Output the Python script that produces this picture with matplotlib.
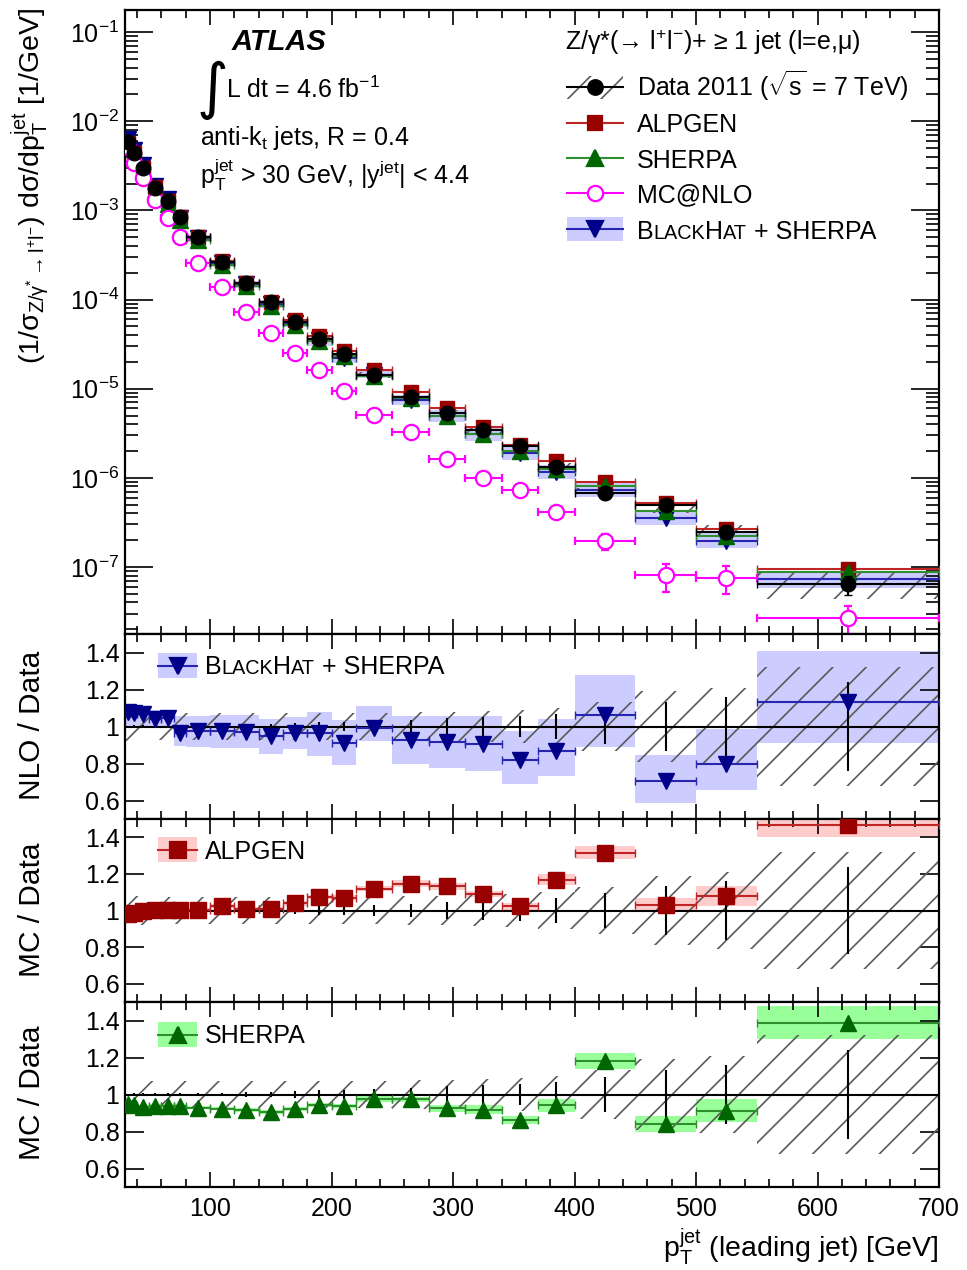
import numpy as np
import matplotlib
matplotlib.use('Agg')
import matplotlib.pyplot as plt
from matplotlib.patches import Rectangle
from matplotlib.lines import Line2D
from matplotlib.ticker import (LogLocator, NullFormatter, FuncFormatter, MultipleLocator,
                               FixedLocator, LogFormatterSciNotation)

plt.rcParams['font.family'] = ['Liberation Sans', 'DejaVu Sans']
plt.rcParams['mathtext.fontset'] = 'custom'
plt.rcParams['mathtext.rm'] = 'Liberation Sans'
plt.rcParams['mathtext.it'] = 'Liberation Sans:italic'
plt.rcParams['mathtext.bf'] = 'Liberation Sans:bold'
plt.rcParams['mathtext.default'] = 'regular'
plt.rcParams['hatch.linewidth'] = 1.2

# ---------------- data ----------------
bin_edges = [30, 35, 40, 50, 60, 70, 80, 100, 120, 140, 160, 180, 200, 220,
             250, 280, 310, 340, 370, 400, 450, 500, 550, 700]

data_xs = [5.85e-3, 4.4e-3, 3.0e-3, 1.8e-3, 1.27e-3, 8.4e-4, 5.0e-4, 2.64e-4,
           1.53e-4, 9.4e-5, 5.6e-5, 3.6e-5, 2.45e-5, 1.43e-5, 8.1e-6, 5.4e-6,
           3.4e-6, 2.3e-6, 1.33e-6, 6.8e-7, 5.0e-7, 2.47e-7, 6.4e-8]
data_stat_rel = [0.005, 0.006, 0.006, 0.007, 0.008, 0.008, 0.009, 0.01, 0.012,
                 0.015, 0.018, 0.022, 0.025, 0.03, 0.035, 0.045, 0.05, 0.055,
                 0.07, 0.095, 0.133, 0.16, 0.24]
data_syst_rel = [0.08, 0.08, 0.08, 0.075, 0.075, 0.075, 0.075, 0.075, 0.075,
                 0.075, 0.075, 0.075, 0.075, 0.075, 0.08, 0.08, 0.085, 0.09,
                 0.1, 0.13, 0.19, 0.21, 0.32]

mcnlo_xs = [5.1e-3, 3.4e-3, 2.3e-3, 1.32e-3, 8.2e-4, 5.0e-4, 2.6e-4, 1.38e-4,
            7.2e-5, 4.25e-5, 2.5e-5, 1.62e-5, 9.5e-6, 5.1e-6, 3.3e-6, 1.63e-6,
            1.0e-6, 7.3e-7, 4.1e-7, 1.96e-7, 8.1e-8, 7.6e-8, 2.7e-8]
mcnlo_err_rel = [0.01, 0.01, 0.01, 0.01, 0.01, 0.01, 0.015, 0.02, 0.02, 0.025,
                 0.03, 0.03, 0.04, 0.05, 0.06, 0.07, 0.08, 0.1, 0.12, 0.2,
                 0.35, 0.35, 0.35]

nlo_ratio = [1.08, 1.075, 1.07, 1.042, 1.045, 0.966, 0.978, 0.975, 0.97, 0.948,
             0.966, 0.966, 0.91, 0.993, 0.929, 0.915, 0.905, 0.82, 0.869, 1.064,
             0.704, 0.80, 1.135]
nlo_band_lo = [1.0, 1.0, 1.0, 0.99, 0.99, 0.895, 0.89, 0.885, 0.885, 0.85, 0.88,
               0.84, 0.79, 0.92, 0.80, 0.775, 0.76, 0.69, 0.73, 0.887, 0.585,
               0.656, 0.91]
nlo_band_hi = [1.11, 1.11, 1.10, 1.09, 1.09, 1.055, 1.058, 1.06, 1.063, 1.04,
               1.05, 1.08, 1.035, 1.11, 1.055, 1.055, 1.055, 0.975, 1.042, 1.28,
               0.847, 0.984, 1.41]

alpgen_ratio = [0.982, 0.988, 0.995, 1.004, 1.005, 1.005, 1.005, 1.023, 1.009,
                1.009, 1.039, 1.074, 1.071, 1.12, 1.147, 1.133, 1.09, 1.023,
                1.168, 1.315, 1.032, 1.08, 1.469]
alpgen_err = [0.008, 0.008, 0.008, 0.008, 0.008, 0.008, 0.008, 0.01, 0.01, 0.01,
              0.012, 0.012, 0.014, 0.015, 0.018, 0.02, 0.015, 0.02, 0.03, 0.035,
              0.035, 0.053, 0.07]

sherpa_ratio = [0.947, 0.942, 0.935, 0.938, 0.938, 0.938, 0.929, 0.924, 0.917,
                0.906, 0.92, 0.943, 0.938, 0.977, 0.973, 0.926, 0.918, 0.864,
                0.942, 1.18, 0.841, 0.912, 1.389]
sherpa_err = [0.008, 0.008, 0.008, 0.008, 0.008, 0.008, 0.008, 0.01, 0.01, 0.01,
              0.01, 0.012, 0.012, 0.015, 0.015, 0.018, 0.024, 0.021, 0.035,
              0.044, 0.042, 0.062, 0.088]

main_yticks = [1e-7, 1e-6, 1e-5, 1e-4, 1e-3, 1e-2, 1e-1]
ratio_yticks = [0.6, 0.8, 1.0, 1.2, 1.4]

# ---------------- colours ----------------
C_ALP, C_ALP_L, C_ALP_B = '#990000', '#c02525', '#ffcccc'
C_SH, C_SH_L, C_SH_B = '#006600', '#2f8f2f', '#99ff99'
C_BH, C_BH_L, C_BH_B = '#000088', '#2626b0', '#ccccff'
C_MC = '#ff00ff'
C_HATCH = '#5a5a5a'

FS = 18        # general text size
FS_SC = 14.3   # small-caps size

edges = np.array(bin_edges, float)
centers = 0.5 * (edges[:-1] + edges[1:])
widths = np.diff(edges)
halfw = widths / 2
data = np.array(data_xs)
stat = np.array(data_stat_rel)
syst = np.array(data_syst_rel)
nlo_r = np.array(nlo_ratio); nlo_lo = np.array(nlo_band_lo); nlo_hi = np.array(nlo_band_hi)
alp_r = np.array(alpgen_ratio); alp_e = np.array(alpgen_err)
sh_r = np.array(sherpa_ratio); sh_e = np.array(sherpa_err)
mcnlo = np.array(mcnlo_xs); mcnlo_e = np.array(mcnlo_err_rel)

W, H = 967, 1270
fig = plt.figure(figsize=(W / 100, H / 100), dpi=100)
L, R = 125, 939


def axes_px(top, bottom):
    return fig.add_axes([L / W, 1 - bottom / H, (R - L) / W, (bottom - top) / H])


ax0 = axes_px(10, 634)
ax1 = axes_px(634, 819)
ax2 = axes_px(819, 1002)
ax3 = axes_px(1002, 1187)

for ax in (ax0, ax1, ax2, ax3):
    ax.set_xlim(30, 700)
    for s in ax.spines.values():
        s.set_linewidth(1.6)
    ax.xaxis.set_major_locator(MultipleLocator(100))
    ax.xaxis.set_minor_locator(MultipleLocator(20))
    ax.tick_params(axis='both', which='both', direction='in', top=True, right=True,
                   width=1.2, labelsize=FS, pad=4)
    ax.xaxis.set_tick_params(which='major', length=11)
    ax.xaxis.set_tick_params(which='minor', length=5.5)
    ax.tick_params(labelbottom=False)
ax3.tick_params(labelbottom=True)
ax3.xaxis.set_tick_params(pad=7)

# ---------------- main panel ----------------
ax0.set_yscale('log')
ax0.set_ylim(1.77e-8, 0.177)
ax0.yaxis.set_major_locator(FixedLocator(main_yticks))
ax0.yaxis.set_major_formatter(LogFormatterSciNotation())
ax0.yaxis.set_minor_locator(LogLocator(base=10, subs=np.arange(2, 10), numticks=50))
ax0.yaxis.set_minor_formatter(NullFormatter())
ax0.yaxis.set_tick_params(which='major', length=20)
ax0.yaxis.set_tick_params(which='minor', length=9.5)

ax0.bar(edges[:-1], data * (nlo_hi - nlo_lo), bottom=data * nlo_lo, width=widths,
        align='edge', color=C_BH_B, linewidth=0, zorder=1)
ax0.bar(edges[:-1], data * 2 * syst, bottom=data * (1 - syst), width=widths,
        align='edge', facecolor='none', edgecolor=C_HATCH, hatch='/', linewidth=0, zorder=2)
ax0.errorbar(centers, data * nlo_r, xerr=halfw, fmt='v', color=C_BH, ecolor=C_BH_L,
             ms=11, capsize=3, elinewidth=1.5, zorder=4)
ax0.errorbar(centers, data * alp_r, xerr=halfw, fmt='s', color=C_ALP, ecolor=C_ALP_L,
             ms=10, capsize=3, elinewidth=1.5, zorder=5)
ax0.errorbar(centers, data * sh_r, xerr=halfw, fmt='^', color=C_SH, ecolor=C_SH_L,
             ms=11, capsize=3, elinewidth=1.5, zorder=6)
ax0.errorbar(centers, mcnlo, xerr=halfw, yerr=mcnlo * mcnlo_e, fmt='o', mfc='white',
             mec=C_MC, ecolor=C_MC, ms=11, mew=1.6, capsize=3, elinewidth=1.5, zorder=7)
ax0.errorbar(centers, data, xerr=halfw, yerr=data * stat, fmt='o', color='black',
             ms=10.5, capsize=3, elinewidth=1.5, zorder=10)


# ---------------- ratio panels ----------------
def ratio_panel(ax, ratio, lo, hi, col, lcol, bcol, marker, ms):
    ax.set_ylim(0.5, 1.5)
    ax.yaxis.set_major_locator(FixedLocator(ratio_yticks))
    ax.yaxis.set_major_formatter(FuncFormatter(lambda v, p: '%g' % v))
    ax.yaxis.set_tick_params(which='major', length=14)
    ax.yaxis.set_tick_params(which='minor', length=0)
    ax.bar(edges[:-1], hi - lo, bottom=lo, width=widths, align='edge', color=bcol,
           linewidth=0, zorder=1)
    ax.bar(edges[:-1], 2 * syst, bottom=1 - syst, width=widths, align='edge',
           facecolor='none', edgecolor=C_HATCH, hatch='/', linewidth=0, zorder=2)
    ax.axhline(1.0, color='black', lw=1.5, zorder=3)
    ax.errorbar(centers, np.ones_like(centers), yerr=stat, fmt='none', ecolor='black',
                elinewidth=1.5, capsize=0, zorder=4)
    ax.errorbar(centers, ratio, xerr=halfw, fmt=marker, color=col, ecolor=lcol,
                ms=ms, capsize=3, elinewidth=1.5, zorder=5)


ratio_panel(ax1, nlo_r, nlo_lo, nlo_hi, C_BH, C_BH_L, C_BH_B, 'v', 12)
ratio_panel(ax2, alp_r, alp_r - alp_e, alp_r + alp_e, C_ALP, C_ALP_L, C_ALP_B, 's', 11)
ratio_panel(ax3, sh_r, sh_r - sh_e, sh_r + sh_e, C_SH, C_SH_L, C_SH_B, '^', 12)

# ---------------- labels ----------------
fig.text(30 / W, 1 - 8 / H,
         r"(1/$\sigma_{Z/\gamma^{*}\rightarrow l^{+}l^{-}}$) d$\sigma$/d$p_{T}^{jet}$ [1/GeV]",
         rotation=90, ha='center', va='top', fontsize=20.5)
fig.text(32 / W, 1 - 725 / H, 'NLO / Data', rotation=90, ha='center', va='center', fontsize=21.5)
fig.text(32 / W, 1 - 910 / H, 'MC / Data', rotation=90, ha='center', va='center', fontsize=21.5)
fig.text(32 / W, 1 - 1093 / H, 'MC / Data', rotation=90, ha='center', va='center', fontsize=21.5)
fig.text(939 / W, 1 - 1257 / H, r"$p_{T}^{jet}$ (leading jet) [GeV]", ha='right',
         va='baseline', fontsize=20.5)

# annotations
fig.text(232 / W, 1 - 42 / H, 'ATLAS', fontsize=21, fontweight='bold', fontstyle='italic',
         ha='left', va='center')
fig.text(197 / W, 1 - 90 / H, '\u222b', fontsize=44, family='DejaVu Sans', ha='left', va='center')
fig.text(226 / W, 1 - 98 / H, r"L dt = 4.6 fb$^{-1}$", fontsize=FS, ha='left', va='baseline')
fig.text(200 / W, 1 - 145 / H, r"anti-k$_{t}$ jets, R = 0.4", fontsize=FS, ha='left', va='baseline')
fig.text(200 / W, 1 - 184 / H, r"$p_{T}^{jet}$ > 30 GeV, |$y^{jet}$| < 4.4", fontsize=FS,
         ha='left', va='baseline')

renderer = fig.canvas.get_renderer()


def text_pieces(X, Ybase, pieces):
    x = X / W
    y = 1 - Ybase / H
    for s, fs in pieces:
        t = fig.text(x, y, s, fontsize=fs, ha='left', va='baseline')
        x += t.get_window_extent(renderer=renderer).width / W


def fig_rect(x0, y0, x1, y1, **kw):
    fig.add_artist(Rectangle((x0 / W, 1 - y1 / H), (x1 - x0) / W, (y1 - y0) / H,
                             transform=fig.transFigure, **kw))


def fig_symbol(x0, x1, yc, lcol, mcol, marker, ms, mfc=None):
    fig.add_artist(Line2D([x0 / W, x1 / W], [1 - yc / H] * 2, color=lcol, lw=1.5,
                          transform=fig.transFigure))
    fig.add_artist(Line2D([(x0 + x1) / 2 / W], [1 - yc / H], marker=marker, ms=ms, ls='none',
                          color=mcol, mec=mcol, mfc=mfc if mfc else mcol,
                          mew=1.6, transform=fig.transFigure))


BH_PIECES = [("B", FS), ("LACK", FS_SC), ("H", FS), ("AT", FS_SC), (" + SHERPA", FS)]

# main legend
fig.text(565 / W, 1 - 50 / H,
         "Z/\u03b3*(\u2192 l$^{+}$l$^{-}$)+ \u2265 1 jet (l=e,\u03bc)",
         fontsize=FS, ha='left', va='baseline')
fig_rect(567, 76, 623, 99, facecolor='none', edgecolor=C_HATCH, hatch='/', linewidth=0)
fig_symbol(567, 623, 87, 'black', 'black', 'o', 10.5)
fig.text(637 / W, 1 - 96 / H, r"Data 2011 ($\sqrt{s}$ = 7 TeV)", fontsize=FS,
         ha='left', va='baseline')
fig_symbol(567, 623, 123, C_ALP_L, C_ALP, 's', 10)
fig.text(637 / W, 1 - 132 / H, "ALPGEN", fontsize=FS, ha='left', va='baseline')
fig_symbol(567, 623, 158, C_SH_L, C_SH, '^', 11)
fig.text(637 / W, 1 - 168 / H, "SHERPA", fontsize=FS, ha='left', va='baseline')
fig_symbol(567, 623, 193, C_MC, C_MC, 'o', 11, mfc='white')
fig.text(637 / W, 1 - 202 / H, "MC@NLO", fontsize=FS, ha='left', va='baseline')
fig_rect(567, 217, 623, 241, facecolor=C_BH_B, linewidth=0)
fig_symbol(567, 623, 229, C_BH_L, C_BH, 'v', 11)
text_pieces(637, 239, BH_PIECES)

# ratio legends
fig_rect(158, 653, 197, 678, facecolor=C_BH_B, linewidth=0)
fig_symbol(158, 197, 665.5, C_BH_L, C_BH, 'v', 12)
text_pieces(205, 674, BH_PIECES)

fig_rect(158, 837, 197, 862, facecolor=C_ALP_B, linewidth=0)
fig_symbol(158, 197, 849.5, C_ALP_L, C_ALP, 's', 11)
fig.text(205 / W, 1 - 859 / H, "ALPGEN", fontsize=FS, ha='left', va='baseline')

fig_rect(158, 1022, 197, 1047, facecolor=C_SH_B, linewidth=0)
fig_symbol(158, 197, 1034.5, C_SH_L, C_SH, '^', 12)
fig.text(205 / W, 1 - 1043 / H, "SHERPA", fontsize=FS, ha='left', va='baseline')

fig.savefig('out.png', dpi=100)
